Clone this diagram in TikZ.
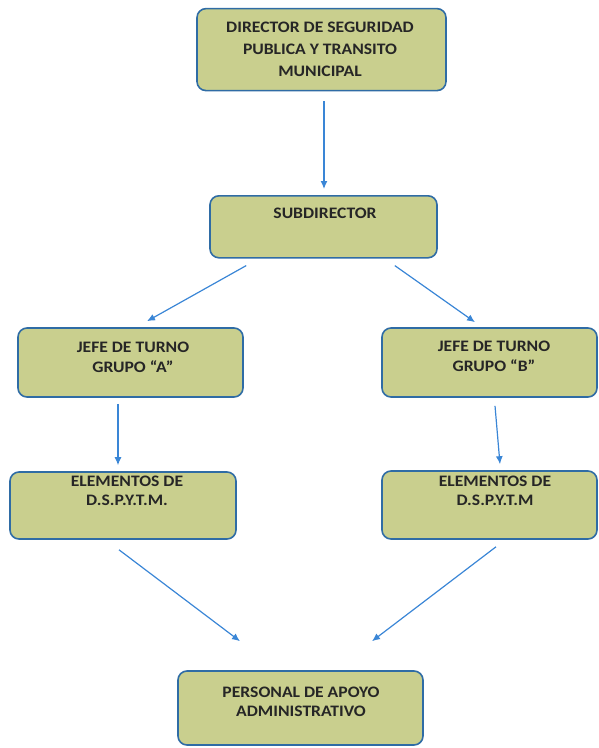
\documentclass[tikz,border=0pt]{standalone}
\usepackage{fontspec}
\setmainfont{Carlito}[FakeStretch=1.1]
\usepackage{tikz}
\usetikzlibrary{arrows.meta}
\definecolor{cajaverde}{RGB}{201,207,142}
\definecolor{bordeazul}{RGB}{47,108,165}
\definecolor{flechaazul}{RGB}{58,134,214}

\begin{document}
\begin{tikzpicture}[x=1pt, y=-1pt, >={Latex[length=8pt,width=7pt]},
  caja/.style={draw=bordeazul, line width=1.6pt, fill=cajaverde, rounded corners=9pt, inner sep=0pt},
  texto/.style={align=center, font=\fontsize{16}{19.5}\selectfont\bfseries, text=black!85, inner sep=0pt},
  flecha/.style={->, draw=flechaazul, line width=1.2pt}]
  \useasboundingbox (0,0) rectangle (598,748);

  % Cajas
  \node[caja, minimum width=249pt, minimum height=82pt] (dir) at (321.5,49.6) {};
  \node[caja, minimum width=227pt, minimum height=62pt] (sub) at (323.5,226.8) {};
  \node[caja, minimum width=225pt, minimum height=69pt] (jefeA) at (130.5,362.5) {};
  \node[caja, minimum width=215pt, minimum height=69pt] (jefeB) at (489.5,362.5) {};
  \node[caja, minimum width=226pt, minimum height=67pt] (elemA) at (123,505.5) {};
  \node[caja, minimum width=215pt, minimum height=68pt] (elemB) at (489.5,505) {};
  \node[caja, minimum width=245pt, minimum height=74pt] (pers) at (300.5,708) {};

  % Textos
  \node[texto, font=\fontsize{16}{22}\selectfont\bfseries] (dirT) at (320,49) {DIRECTOR DE SEGURIDAD\\PUBLICA Y TRANSITO\\MUNICIPAL};
  \node[texto] (subT) at (325,213) {SUBDIRECTOR};
  \node[texto] (jefeAT) at (133,357.5) {JEFE DE TURNO\\GRUPO “A”};
  \node[texto] (jefeBT) at (494,356.5) {JEFE DE TURNO\\GRUPO “B”};
  \node[texto] (elemAT) at (127,491) {ELEMENTOS DE\\D.S.P.Y.T.M.};
  \node[texto] (elemBT) at (495,491) {ELEMENTOS DE\\D.S.P.Y.T.M};
  \node[texto] (persT) at (301,702) {PERSONAL DE APOYO\\ADMINISTRATIVO};

  % Flechas
  \draw[flecha] ([xshift=2.5pt,yshift=-10pt]dir.south) -- ([xshift=0.5pt,yshift=6pt]sub.north);
  \draw[flecha] ([xshift=37pt,yshift=-7pt]sub.south west) -- ([xshift=16.5pt,yshift=6pt]jefeA.north);
  \draw[flecha] ([xshift=-43pt,yshift=-7pt]sub.south east) -- ([xshift=-14.5pt,yshift=5pt]jefeB.north);
  \draw[flecha] ([xshift=-12.5pt,yshift=-6pt]jefeA.south) -- ([xshift=-5pt,yshift=6pt]elemA.north);
  \draw[flecha] ([xshift=5.5pt,yshift=-8pt]jefeB.south) -- ([xshift=10.5pt,yshift=6pt]elemB.north);
  \draw[flecha] ([xshift=-4pt,yshift=-10pt]elemA.south) -- ([xshift=-60.5pt,yshift=29pt]pers.north);
  \draw[flecha] ([xshift=6.5pt,yshift=-7pt]elemB.south) -- ([xshift=71.5pt,yshift=29pt]pers.north);
\end{tikzpicture}
\end{document}
